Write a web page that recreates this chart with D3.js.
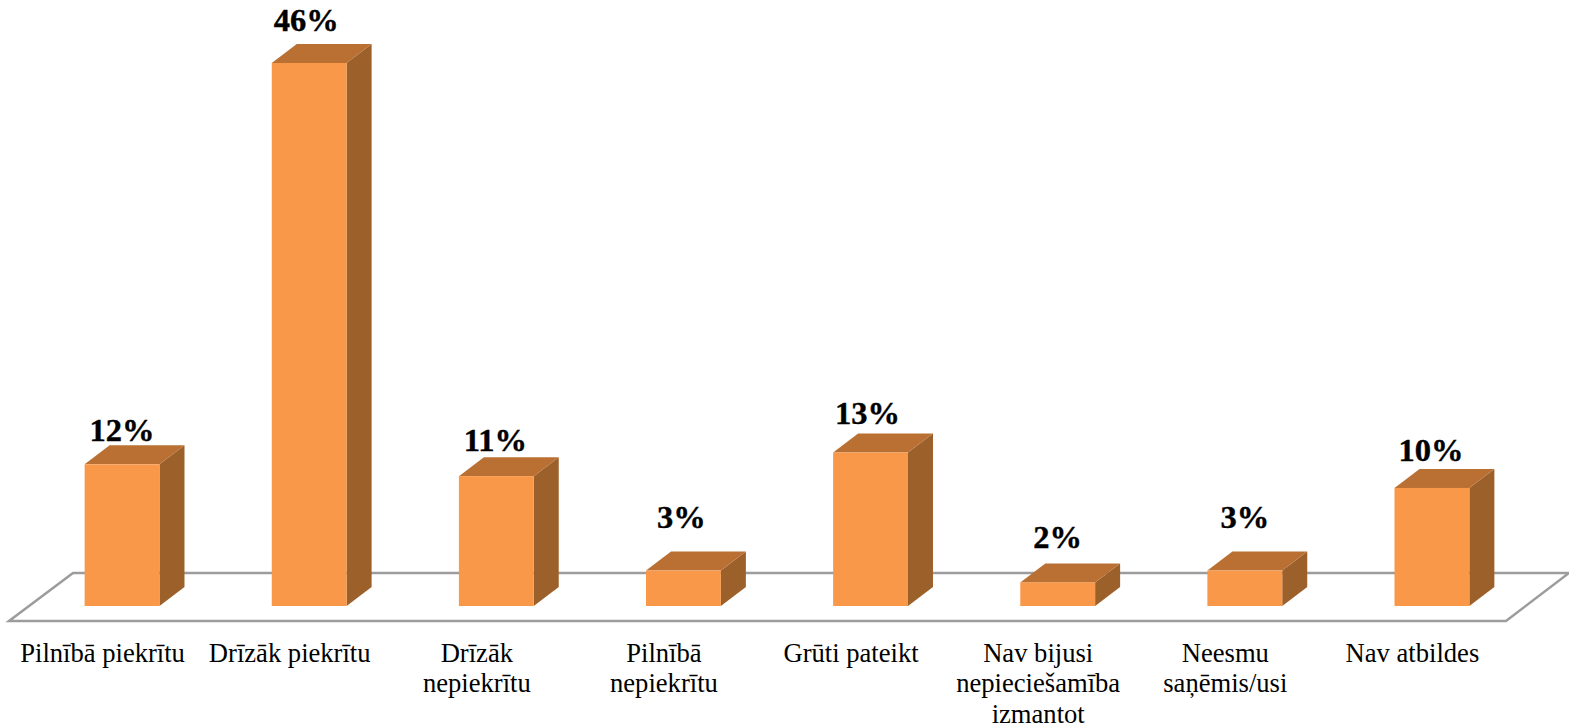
<!DOCTYPE html>
<html>
<head>
<meta charset="utf-8">
<script src="https://cdnjs.cloudflare.com/ajax/libs/d3/7.0.0/d3.min.js"></script>
<style>
  html, body { margin: 0; padding: 0; background: #fff; overflow: hidden; }
  text { font-family: "Liberation Serif", serif; fill: #000; }
</style>
</head>
<body>
<svg id="chart" width="1569" height="728"></svg>
<script>
const tickLines = [
  ['Pilnībā piekrītu'], ['Drīzāk piekrītu'], ['Drīzāk', 'nepiekrītu'], ['Pilnībā', 'nepiekrītu'],
  ['Grūti pateikt'], ['Nav bijusi', 'nepieciešamība', 'izmantot'], ['Neesmu', 'saņēmis/usi'], ['Nav atbildes'],
]
const categories = tickLines.map(l => l.join(' '))
const values = [12, 46, 11, 3, 13, 2, 3, 10]
// labels were hand placed in the original, so each one gets its own gap above the bar
const labelGap = [4, 13, 6, 24, 10, 15, 24, 8]
const labelShift = [0, -3, -1, -2, -3, 0, 0, -1]

const baseY = 606, depthX = 25, depthY = 19

const svg = d3.select('#chart')

const x = d3.scaleBand().domain(categories).range([28.5, 1525.5]).paddingInner(0.6).paddingOuter(0.3)
const y = d3.scaleLinear().domain([0, 46]).range([baseY, 63])

// floor
svg.append('path')
  .attr('d', 'M9,621 L73,573 L1569,573 L1506,621 Z')
  .attr('fill', '#fff')
  .attr('stroke', '#9c9c9c')
  .attr('stroke-width', 2.5)

const bars = svg.selectAll('.bar').data(categories).join('g').attr('class', 'bar')

// side
bars.append('path')
  .attr('fill', '#9c602b')
  .attr('d', (d, i) => {
    const r = x(d) + x.bandwidth(), t = y(values[i])
    return `M${r},${t} L${r + depthX},${t - depthY} L${r + depthX},${baseY - depthY} L${r},${baseY} Z`
  })

// top
bars.append('path')
  .attr('fill', '#ba7032')
  .attr('d', (d, i) => {
    const l = x(d), r = l + x.bandwidth(), t = y(values[i])
    return `M${l},${t} L${l + depthX},${t - depthY} L${r + depthX},${t - depthY} L${r},${t} Z`
  })

// front
bars.append('rect')
  .attr('fill', '#f99848')
  .attr('x', d => x(d))
  .attr('width', x.bandwidth())
  .attr('y', (d, i) => y(values[i]))
  .attr('height', (d, i) => baseY - y(values[i]))

svg.selectAll('.value').data(categories).join('text')
  .attr('class', 'value')
  .attr('text-anchor', 'middle')
  .attr('font-size', 32.5)
  .attr('font-weight', 'bold')
  .attr('stroke', '#000')
  .attr('stroke-width', 0.4)
  .attr('x', (d, i) => x(d) + x.bandwidth() / 2 + labelShift[i])
  .attr('y', (d, i) => y(values[i]) - depthY - labelGap[i])
  .text((d, i) => values[i] + '%')

// category labels sit left of the bar centre
const ticks = svg.selectAll('.tick').data(categories).join('text')
  .attr('class', 'tick')
  .attr('text-anchor', 'middle')
  .attr('font-size', 26.6)

ticks.selectAll('tspan').data((d, i) => tickLines[i].map(t => ({ t, c: d }))).join('tspan')
  .attr('x', d => x(d.c) + x.bandwidth() / 2 - 19.5)
  .attr('y', (d, i) => 662 + i * 30.4)
  .text(d => d.t)
</script>
</body>
</html>
